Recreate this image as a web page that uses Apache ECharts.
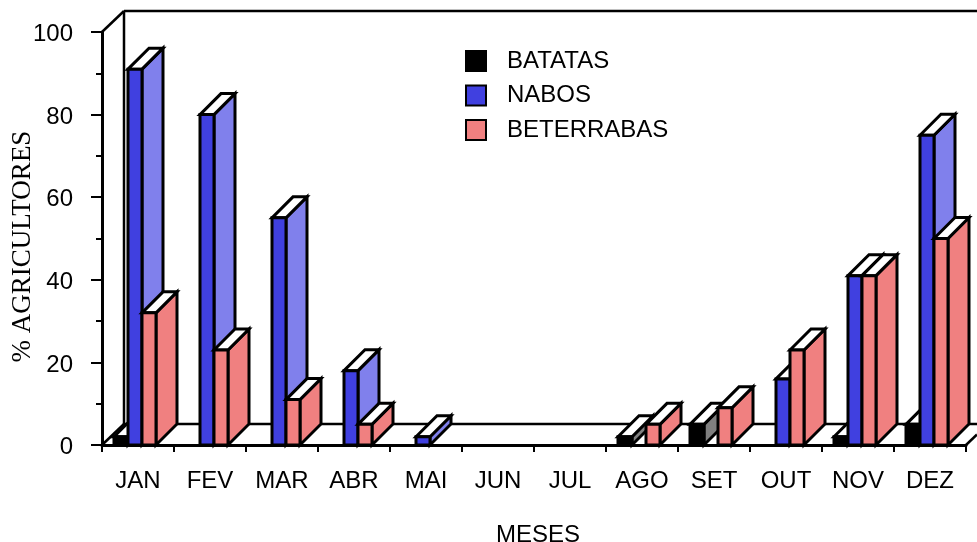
<!DOCTYPE html>
<html><head><meta charset="utf-8">
<style>html,body{margin:0;padding:0;background:#fff}#c{width:977px;height:542px}</style>
<script src="https://cdn.jsdelivr.net/npm/echarts@6/dist/echarts.min.js"></script>
</head><body><div id="c"></div>
<script>
const months = ['JAN','FEV','MAR','ABR','MAI','JUN','JUL','AGO','SET','OUT','NOV','DEZ'];
const batatas    = [2,'-','-','-','-','-','-',2,5,'-',2,5];
const nabos      = [91,80,55,18,2,'-','-','-','-',16,41,75];
const beterrabas = [32,23,11,5,'-','-','-',5,9,23,41,50];

const DX = 22, DY = 21, BAR_DX = 21, BAR = 14, OFF = 12;
const FONT = '"Liberation Sans", Arial, sans-serif';

function barSeries(name, values, idx, front, side) {
  return {
    name, type: 'custom', clip: false, z: 3 + idx,
    itemStyle: { color: front, borderColor: '#000', borderWidth: 2.5 },
    encode: { x: 0, y: 1 },
    data: values.map((v, i) => [i, v]),
    renderItem(params, api) {
      const v = api.value(1);
      if (isNaN(v)) return;
      const top = api.coord([api.value(0), v]);
      const base = api.coord([api.value(0), 0]);
      const band = api.size([1, 0])[0];
      const x0 = top[0] - band / 2 + OFF + idx * BAR, x1 = x0 + BAR;
      const y0 = base[1], y1 = top[1];
      const ln = { stroke: '#000', lineWidth: 3, lineJoin: 'miter' };
      return { type: 'group', children: [
        { type: 'polygon', shape: { points: [[x1,y1],[x1+BAR_DX,y1-DY],[x1+BAR_DX,y0-DY],[x1,y0]] },
          style: Object.assign({ fill: side }, ln) },
        { type: 'polygon', shape: { points: [[x0,y1],[x0+BAR_DX,y1-DY],[x1+BAR_DX,y1-DY],[x1,y1]] },
          style: Object.assign({ fill: '#fff' }, ln) },
        { type: 'rect', shape: { x: x0, y: y1, width: BAR, height: y0 - y1 },
          style: Object.assign({ fill: front }, ln) }
      ]};
    }
  };
}

const frame = {
  type: 'custom', name: 'frame', clip: false, z: 1, silent: true,
  data: [[0, 0]], encode: { x: 0, y: 1 },
  renderItem(params, api) {
    const c = params.coordSys, L = c.x, R = c.x + c.width, T = c.y, B = c.y + c.height;
    const s = { stroke: '#000', lineWidth: 2.5, fill: null };
    const line = (a, b, d, e) => ({ type: 'line', shape: { x1: a, y1: b, x2: d, y2: e }, style: s });
    return { type: 'group', children: [
      line(L, T, L + DX, T - DY),
      line(L + DX, T - DY, 977, T - DY),
      line(L + DX, T - DY, L + DX, B - DY),
      line(L, B, L + DX, B - DY),
      line(L + DX, B - DY, 977, B - DY),
      line(R, B, 977, B - 10.5)
    ]};
  }
};

const axisText = { color: '#000', fontFamily: FONT, fontSize: 24 };
const option = {
  animation: false,
  backgroundColor: '#fff',
  grid: { left: 102, top: 32, width: 864, height: 413, containLabel: false, outerBoundsMode: 'none' },
  legend: {
    orient: 'vertical', left: 465, top: 49, padding: 0, itemWidth: 20, itemHeight: 20, itemGap: 10.5,
    selectedMode: false, icon: 'rect',
    data: ['BATATAS', 'NABOS', 'BETERRABAS'],
    textStyle: { color: '#000', fontFamily: FONT, fontSize: 24, padding: [0, 0, 0, 16] }
  },
  xAxis: {
    type: 'category', data: months,
    name: 'MESES', nameLocation: 'middle', nameGap: 78, nameMoveOverlap: false,
    nameTextStyle: Object.assign({ padding: [0, 0, 0, 8] }, axisText),
    axisLine: { lineStyle: { color: '#000', width: 3 } },
    axisTick: { show: true, length: 7, interval: 0, lineStyle: { color: '#000', width: 2 } },
    axisLabel: Object.assign({ margin: 24, interval: 0 }, axisText),
    splitLine: { show: false }
  },
  yAxis: {
    type: 'value', min: 0, max: 100, interval: 20,
    name: '% AGRICULTORES', nameLocation: 'middle', nameGap: 66, nameRotate: 90, nameMoveOverlap: false,
    nameTextStyle: { color: '#000', fontFamily: '"Liberation Serif", "Times New Roman", serif', fontSize: 27, padding: [0, 16, 0, 0] },
    axisLine: { show: true, lineStyle: { color: '#000', width: 3 } },
    axisTick: { show: true, length: 11, lineStyle: { color: '#000', width: 2 } },
    minorTick: { show: true, splitNumber: 2, length: 6, lineStyle: { color: '#000', width: 2 } },
    axisLabel: Object.assign({ margin: 29, formatter: '{v|{value}}',
      rich: { v: { color: '#000', fontFamily: FONT, fontSize: 24, padding: [5, 0, 0, 0] } } }, axisText),
    splitLine: { show: false }, minorSplitLine: { show: false }
  },
  series: [
    frame,
    barSeries('BATATAS', batatas, 0, '#000000', '#808080'),
    barSeries('NABOS', nabos, 1, '#4040e0', '#8080ec'),
    barSeries('BETERRABAS', beterrabas, 2, '#f08080', '#f08080')
  ]
};
echarts.init(document.getElementById('c'), null, { renderer: 'canvas' }).setOption(option);
</script></body></html>
